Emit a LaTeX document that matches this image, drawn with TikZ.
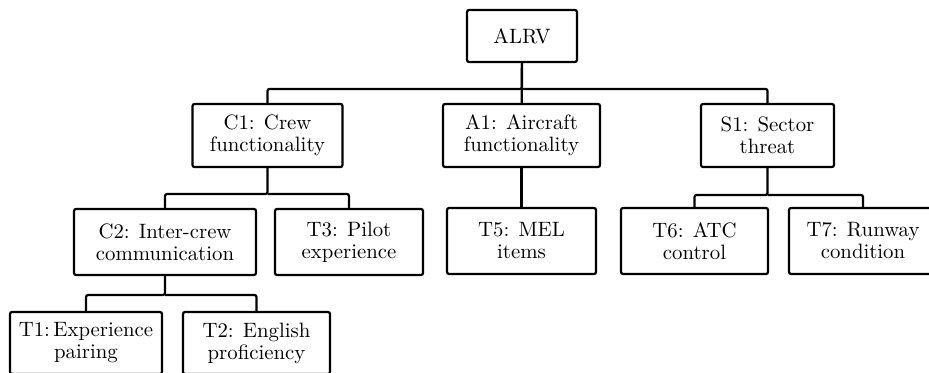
\documentclass[tikz,border=0pt]{standalone}
\usepackage{tikz}
\usetikzlibrary{positioning}

\begin{document}
\begin{tikzpicture}[
    x=0.5pt, y=-0.5pt,
    % Define styles for the boxes and the tree lines
    box/.style={rectangle, draw, line width=1.1pt, rounded corners=1pt, inner sep=0pt, align=center, font=\fontsize{10.4}{11}\selectfont},
    top/.style={box, minimum width=55pt, minimum height=26pt},
    crit/.style={box, minimum width=75pt, minimum height=31.5pt},
    leaf/.style={box, minimum width=74pt, minimum height=33pt},
    conn/.style={line width=1.1pt, rounded corners=1pt}
]
    \useasboundingbox (0,0) rectangle (929,373);

    % Root
    \node[top] (alrv) at (522,36) {ALRV};

    % First level
    \node[crit] (c1) at (267.5,135.5) {C1: Crew\\functionality};
    \node[crit, minimum width=78.5pt] (a1) at (521.5,135.5) {A1: Aircraft\\functionality};
    \node[crit, minimum width=66.5pt] (s1) at (767.5,135.5) {S1: Sector\\threat};

    % Second level
    \node[leaf, minimum width=91pt] (c2) at (165,242) {C2: Inter-crew\\communication};
    \node[leaf] (t3) at (349,242) {T3: Pilot\\experience};
    \node[leaf, minimum width=74.5pt] (t5) at (521.5,241) {T5: MEL\\items};
    \node[leaf, minimum width=73.5pt] (t6) at (694.5,241) {T6: ATC\\control};
    \node[leaf] (t7) at (863,241) {T7: Runway\\condition};

    % Third level
    \node[leaf, minimum width=76pt, minimum height=31pt] (t1) at (86,343) {T1:\,Experience\\pairing};
    \node[leaf, minimum width=73.5pt, minimum height=31pt] (t2) at (256.5,343) {T2: English\\proficiency};

    % Junction points of the tree
    \coordinate (j0) at (522,89);
    \coordinate (j1) at (267.5,194);
    \coordinate (j2) at (165,295);
    \coordinate (j3) at (767.5,195);

    % Root to first level
    \draw[conn] (alrv) -- (j0) -| (c1);
    \draw[conn] (j0) -| (s1);
    \draw[conn] (alrv) -- (a1);

    % C1 to its children
    \draw[conn] (c1) -- (j1) -| (c2);
    \draw[conn] (j1) -| (t3);

    % C2 to its children
    \draw[conn] (c2) -- (j2) -| (t1);
    \draw[conn] (j2) -| (t2);

    % A1 and S1 to their children
    \draw[conn] (a1) -- (t5);
    \draw[conn] (s1) -- (j3) -| (t6);
    \draw[conn] (j3) -| (t7);

\end{tikzpicture}
\end{document}
